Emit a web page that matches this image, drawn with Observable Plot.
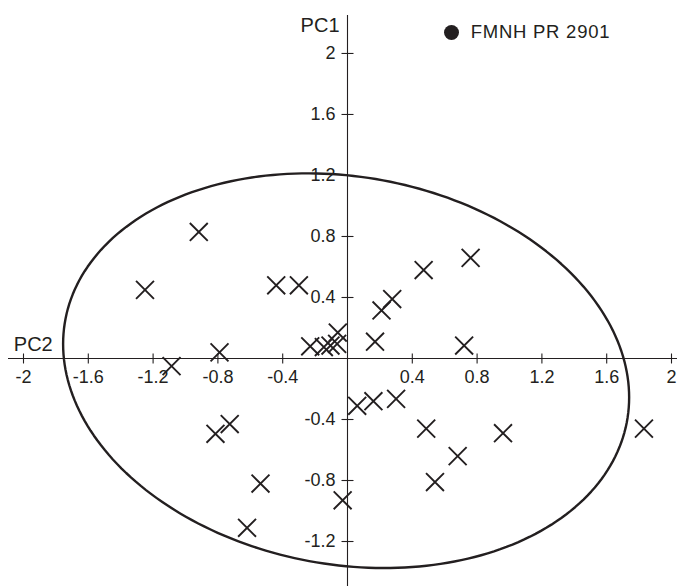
<!DOCTYPE html>
<html><head><meta charset="utf-8">
<script src="https://cdn.jsdelivr.net/npm/d3@7"></script>
<script src="https://cdn.jsdelivr.net/npm/@observablehq/plot@0.6"></script>
<style>
body{margin:0;background:#fff;}
#wrap{position:relative;width:677px;height:586px;font-family:"Liberation Sans",Arial,sans-serif;color:#231f20;}
#legend-dot{position:absolute;left:443.5px;top:24.5px;width:15px;height:15px;border-radius:50%;background:#231f20;}
#legend-text{position:absolute;left:470.7px;top:22.6px;font-size:18.5px;line-height:18.5px;letter-spacing:0.75px;white-space:nowrap;}
</style></head>
<body><div id="wrap"><div id="chart"></div><div id="legend-dot"></div><div id="legend-text"></div></div>
<script>
// PC2 (horizontal) and PC1 (vertical) scores of the comparison specimens
const pc2 = [-0.918, -1.25, -0.44, -0.30, -0.79, -1.086, -0.23, -0.146, -0.105, -0.064, -0.06, 0.17, 0.21, 0.276, 0.47, 0.76, 0.72, 0.06, 0.16, 0.30, 0.486, 0.96, 1.83, 0.68, 0.54, -0.03, -0.815, -0.727, -0.537, -0.62];
const pc1 = [0.83, 0.45, 0.48, 0.48, 0.04, -0.05, 0.08, 0.075, 0.085, 0.096, 0.17, 0.11, 0.315, 0.39, 0.58, 0.66, 0.085, -0.31, -0.28, -0.265, -0.46, -0.49, -0.46, -0.64, -0.81, -0.93, -0.494, -0.43, -0.82, -1.11];

const xTicks = [-2, -1.6, -1.2, -0.8, -0.4, 0.4, 0.8, 1.2, 1.6, 2];
const xTickLabels = ["-2", "-1.6", "-1.2", "-0.8", "-0.4", "0.4", "0.8", "1.2", "1.6", "2"];
const yTicks = [-1.2, -0.8, -0.4, 0.4, 0.8, 1.2, 1.6, 2];
const yTickLabels = ["-1.2", "-0.8", "-0.4", "0.4", "0.8", "1.2", "1.6", "2"];
const xAxisTitle = "PC2";
const yAxisTitle = "PC1";
const legendLabel = "FMNH PR 2901";

// confidence ellipse: centre and Cholesky factors of its covariance
const ellipseCenter = [-0.0085, -0.08];
const ellipseFactors = [1.747, -0.175, 1.282];

const ink = "#231f20";
const points = pc2.map((x, i) => ({x, y: pc1[i]}));
const ellipsePts = d3.range(0, 360, 1.5).map(deg => {
  const t = deg * Math.PI / 180;
  const [a, b, c] = ellipseFactors;
  return {x: ellipseCenter[0] + a * Math.cos(t), y: ellipseCenter[1] + b * Math.cos(t) + c * Math.sin(t)};
});
const xt = xTicks.map((v, i) => ({v, label: xTickLabels[i]}));
const yt = yTicks.map((v, i) => ({v, label: yTickLabels[i]}));

const vTick = {draw(ctx) { ctx.moveTo(0, -5); ctx.lineTo(0, 5); }};
const hTick = {draw(ctx) { ctx.moveTo(-6, 0); ctx.lineTo(6, 0); }};

const chart = Plot.plot({
  width: 677, height: 586,
  marginLeft: 23, marginRight: 6, marginTop: 15, marginBottom: 0,
  x: {domain: [-2, 2], axis: null},
  y: {domain: [-1.495, 2.249], axis: null},
  style: {fontFamily: "'Liberation Sans', Arial, sans-serif", fontSize: "18px", color: ink, background: "#fff"},
  marks: [
    Plot.ruleY([0], {stroke: ink, strokeWidth: 1.1, insetLeft: -15, insetRight: -6}),
    Plot.ruleX([0], {stroke: ink, strokeWidth: 1.1}),
    Plot.dot(xt, {x: "v", y: 0, symbol: vTick, stroke: ink, fill: "none", strokeWidth: 1.1, r: 5}),
    Plot.dot(yt, {x: 0, y: "v", symbol: hTick, stroke: ink, fill: "none", strokeWidth: 1.1, r: 5}),
    Plot.text(xt, {x: "v", y: 0, text: "label", dy: 18.7, fill: ink, fontSize: 18, textAnchor: "middle"}),
    Plot.text(yt, {x: 0, y: "v", text: "label", dx: -12, fill: ink, fontSize: 18, textAnchor: "end"}),
    Plot.text([xAxisTitle], {frameAnchor: "left", y: 0, text: d => d, dx: -9.7, dy: -7.3, lineAnchor: "bottom", textAnchor: "start", fontSize: 20, fill: ink}),
    Plot.text([yAxisTitle], {frameAnchor: "top", x: 0, text: d => d, dx: -8, dy: 2.5, lineAnchor: "top", textAnchor: "end", fontSize: 20, fill: ink}),
    Plot.line(ellipsePts, {x: "x", y: "y", curve: "linear-closed", stroke: ink, strokeWidth: 2.4}),
    Plot.dot(points, {x: "x", y: "y", symbol: "times", r: 8.2, stroke: ink, strokeWidth: 1.9})
  ]
});
document.getElementById("chart").appendChild(chart);
document.getElementById("legend-text").textContent = legendLabel;
</script>
</body></html>
